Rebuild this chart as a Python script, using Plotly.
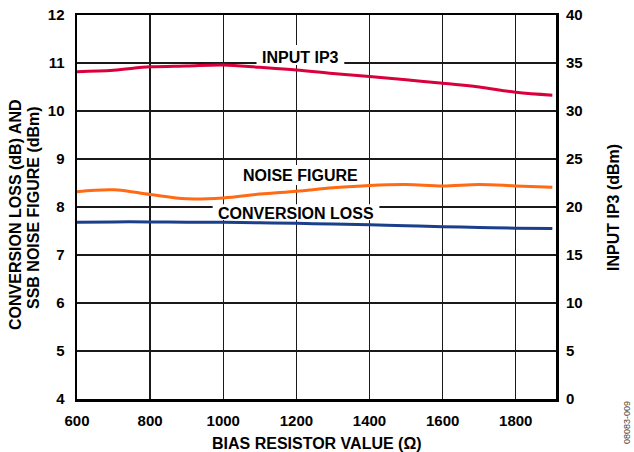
import plotly.graph_objects as go

bias = [600, 700, 800, 900, 1000, 1100, 1200, 1300, 1400, 1500, 1600, 1700, 1800, 1900]
input_ip3 = [34.1, 34.25, 34.6, 34.7, 34.8, 34.55, 34.27, 33.9, 33.6, 33.25, 32.9, 32.5, 31.95, 31.65]
noise_figure = [8.32, 8.36, 8.26, 8.17, 8.19, 8.27, 8.33, 8.40, 8.45, 8.47, 8.44, 8.47, 8.44, 8.41]
conversion_loss = [7.68, 7.69, 7.69, 7.685, 7.68, 7.67, 7.66, 7.645, 7.63, 7.61, 7.59, 7.575, 7.56, 7.55]

x_ticks = [600, 800, 1000, 1200, 1400, 1600, 1800]
y_left_ticks = [4, 5, 6, 7, 8, 9, 10, 11, 12]
y_right_ticks = [0, 5, 10, 15, 20, 25, 30, 35, 40]

# series labels: text, anchor (x, y-left), white backing box (x0, x1, y0, y1)
labels = [
    ("INPUT IP3", 1211, 11.115, (1091, 1331, 10.96, 11.375)),
    ("NOISE FIGURE", 1211, 8.667, (1045, 1381, 8.458, 8.875)),
    ("CONVERSION LOSS", 1200, 7.875, (971, 1427, 7.73, 8.06)),
]

FONT = "Liberation Sans, Arial, sans-serif"
GRID = "#1a1a1a"

W, H = 634, 452
L, R, T, B = 77, 78, 15, 53
PX0, PX1, PY0, PY1 = L, W - R, T, H - B  # plot area in page coords


def px(X):
    return (X - PX0) / (PX1 - PX0)


def py(Y):
    return (PY1 - Y) / (PY1 - PY0)


def b(v):
    return f"<b>{v}</b>"


fig = go.Figure()
fig.add_trace(go.Scatter(x=bias, y=noise_figure, mode="lines",
                         line=dict(color="#FF6A13", width=3, shape="spline"),
                         showlegend=False, hoverinfo="skip"))
fig.add_trace(go.Scatter(x=bias, y=conversion_loss, mode="lines",
                         line=dict(color="#1B3F8B", width=3, shape="spline"),
                         showlegend=False, hoverinfo="skip"))
fig.add_trace(go.Scatter(x=bias, y=input_ip3, mode="lines", yaxis="y2",
                         line=dict(color="#D9003B", width=3, shape="spline"),
                         showlegend=False, hoverinfo="skip"))

tickfont = dict(family=FONT, size=15, color="black")

fig.update_layout(
    width=W, height=H,
    margin=dict(l=L, r=R, t=T, b=B, autoexpand=False),
    paper_bgcolor="white", plot_bgcolor="white",
    xaxis=dict(range=[600, 1910], tickvals=x_ticks,
               ticktext=[b(v) for v in x_ticks], showgrid=True,
               gridcolor=GRID, gridwidth=1.3, showline=True, linecolor="black",
               linewidth=2.5, mirror=True, ticks="", tickfont=tickfont,
               ticklabelstandoff=6, zeroline=False),
    yaxis=dict(range=[4, 12.0005], tickvals=y_left_ticks,
               ticktext=[b(v) for v in y_left_ticks], showgrid=True,
               gridcolor=GRID, gridwidth=1.3, showline=True, linecolor="black",
               linewidth=2.5, mirror=True, ticks="", tickfont=tickfont,
               ticklabelstandoff=7, zeroline=False),
    yaxis2=dict(range=[0, 40.0025], tickvals=y_right_ticks,
                ticktext=[b(v) for v in y_right_ticks], overlaying="y",
                side="right", showgrid=False, showline=False, ticks="",
                tickfont=tickfont, ticklabelstandoff=9, zeroline=False),
)

lab = dict(family=FONT, size=16, color="black")
for text, lx, ly, (x0, x1, y0, y1) in labels:
    fig.add_shape(type="rect", xref="x", yref="y", x0=x0, x1=x1, y0=y0, y1=y1,
                  fillcolor="white", line=dict(width=0), layer="between")
    fig.add_annotation(x=lx, y=ly, xref="x", yref="y", text=b(text),
                       showarrow=False, font=lab)

# axis titles
fig.add_annotation(x=px(317), y=py(443), xref="paper", yref="paper",
                   text=b("BIAS RESISTOR VALUE (Ω)"), showarrow=False, font=lab,
                   xanchor="center", yanchor="middle")
fig.add_annotation(x=px(16), y=py(215), xref="paper", yref="paper",
                   text=b("CONVERSION LOSS (dB) AND"),
                   showarrow=False, font=lab, textangle=-90,
                   xanchor="center", yanchor="middle")
fig.add_annotation(x=px(33), y=py(208), xref="paper", yref="paper",
                   text=b("SSB NOISE FIGURE (dBm)"),
                   showarrow=False, font=lab, textangle=-90,
                   xanchor="center", yanchor="middle")
fig.add_annotation(x=px(613), y=py(208), xref="paper", yref="paper",
                   text=b("INPUT IP3 (dBm)"), showarrow=False, font=lab,
                   textangle=-90, xanchor="center", yanchor="middle")
fig.add_annotation(x=px(627), y=py(423), xref="paper", yref="paper",
                   text="08083-009", showarrow=False,
                   font=dict(family=FONT, size=9, color="#444444"),
                   textangle=-90, xanchor="center", yanchor="middle")

fig.write_html(
    "out.html",
    config={"displayModeBar": False, "staticPlot": True},
    post_script="document.body.style.margin='0';"
                "document.documentElement.style.overflow='hidden';",
)
